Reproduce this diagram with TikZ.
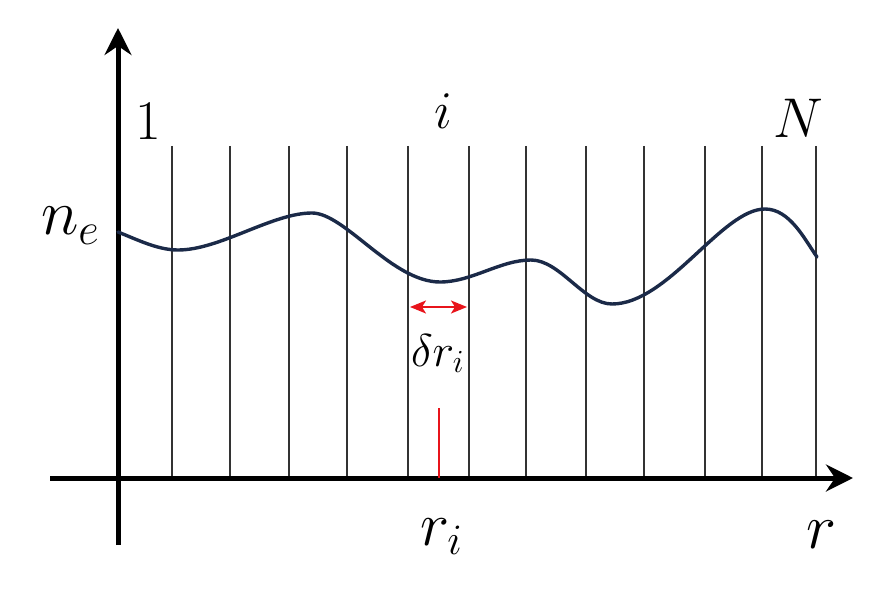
\documentclass[tikz,border=0pt]{standalone}
\usepackage{fix-cm}
\usetikzlibrary{arrows.meta}
\definecolor{curvecol}{HTML}{1B2A48}
\definecolor{redc}{HTML}{E8141B}
\newcommand\fsz[1]{\fontsize{#1}{#1}\selectfont}
\begin{document}
\begin{tikzpicture}[x=1pt,y=-1pt,
  axis/.style={line width=5pt,-{Stealth[length=27pt,width=27pt,inset=9pt]}},
  cell/.style={line width=1.2pt,black!80},
  lbl/.style={inner sep=0pt,outer sep=0pt,anchor=base west}]
\useasboundingbox (0,0) rectangle (881,604);
% cell boundaries
\foreach \x in {172,230,289,347,408,469,526,586,644,705,762,816}{
  \draw[cell] (\x,146) -- (\x,478);
}
% axes
\coordinate (xs) at (50,478);
\coordinate (xe) at (853,478);
\coordinate (ys) at (118,545);
\coordinate (ye) at (118,28);
\draw[axis] (xs) -- (xe);
\draw[axis] (ys) -- (ye);
% profile
\draw[curvecol,line width=3.4pt,line cap=round]
 (118,232) .. controls (138,240) and (158,250) .. (178,250)
 .. controls (220,250) and (272,213) .. (312,213)
 .. controls (345,213) and (392,282) .. (440,282)
 .. controls (472,282) and (500,260) .. (531,260)
 .. controls (560,260) and (584,304) .. (612,304)
 .. controls (668,304) and (722,209) .. (765,209)
 .. controls (790,209) and (805,240) .. (817,257);
% red marks
\coordinate (da) at (410,307);
\coordinate (db) at (467,307);
\draw[redc,line width=2pt,{Stealth[length=16pt,width=13pt,inset=4pt]}-{Stealth[length=16pt,width=13pt,inset=4pt]}] (da) -- (db);
\coordinate (ta) at (439,408);
\coordinate (tb) at (439,478);
\draw[redc,line width=2.8pt] (ta) -- (tb);
% labels
\node[lbl] (one) at (135,140) {\fsz{56}1};
\node[lbl] (ilab) at (434,129) {\fsz{53}$i$};
\node[lbl] (Nlab) at (773,138) {\fsz{56}$N$};
\node[lbl] (ne) at (41,235) {\fsz{64}$n_e$};
\node[lbl] (dr) at (411,366) {\fsz{46}$\delta r_i$};
\node[lbl] (ri) at (420,545) {\fsz{62}$r_i$};
\node[lbl] (rl) at (806,548) {\fsz{64}$r$};
\end{tikzpicture}
\end{document}
